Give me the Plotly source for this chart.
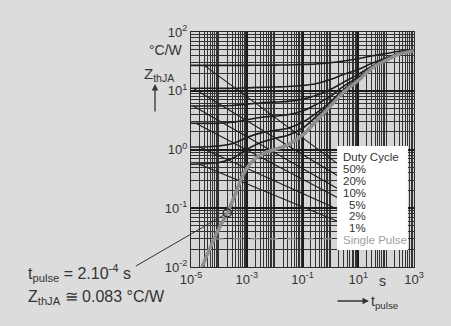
import plotly.graph_objects as go
import math

# ---- data ----
t_single = [2.5e-5, 5e-5, 1e-4, 2e-4, 4e-4, 6e-4, 1e-3, 2e-3, 5e-3, 1e-2, 3e-2,
            0.1, 0.3, 1, 3, 10, 30, 100, 300, 1000]
z_single = [0.01, 0.022, 0.045, 0.083, 0.18, 0.3, 0.48, 0.7, 0.9, 1.0, 1.2,
            1.75, 3.0, 5.5, 9.5, 15, 24, 33, 42, 48]

t_duty = [1e-5, 1e-4, 3e-4, 1e-3, 3e-3, 1e-2, 3e-2, 0.1, 0.3, 1, 3, 10, 30, 100, 300, 1000]
duty_labels = ["50%", "20%", "10%", "5%", "2%", "1%"]
z_50 = [27, 27, 27, 27, 27.2, 27.3, 27.5, 28, 28.5, 30, 32, 35, 39, 43, 47, 50]
z_20 = [11, 11, 11, 11.2, 11.4, 11.6, 11.8, 12.3, 13.2, 15.5, 19, 23, 29, 36, 44, 50]
z_10 = [5.5, 5.5, 5.6, 5.9, 6.2, 6.4, 6.6, 7.2, 8.3, 10.5, 14, 19, 26, 34, 43, 50]
z_05 = [2.8, 2.8, 2.9, 3.2, 3.5, 3.7, 3.9, 4.5, 5.8, 8, 12, 17, 25, 33, 42, 49]
z_02 = [1.1, 1.15, 1.25, 1.6, 1.9, 2.1, 2.3, 2.9, 4.1, 6.5, 10.5, 16, 24, 33, 42, 49]
z_01 = [0.56, 0.6, 0.7, 1.0, 1.3, 1.55, 1.75, 2.3, 3.6, 6, 10, 15.5, 24, 33, 42, 48]
duty_series = [z_50, z_20, z_10, z_05, z_02, z_01]

# leader lines: start on curve (t, Z) -> end near label (t, Z)
lead_start_t = [3e-5, 1.2e-5, 1.2e-5, 1.5e-5, 2e-5, 2e-5]
lead_start_z = [27, 11, 5.5, 2.8, 1.1, 0.56]
lead_end_t = [2.4, 2.4, 2.4, 3.6, 3.6, 3.8]
lead_end_z = [0.52, 0.33, 0.20, 0.128, 0.083, 0.052]
single_lead_t = [7.2e-5, 2.4]
single_lead_z = [0.030, 0.030]

marker_t = [2e-4]
marker_z = [0.083]

x_tickvals = [1e-5, 1e-3, 1e-1, 1e1, 1e3]
x_ticktext = ["10<sup>-5</sup>", "10<sup>-3</sup>", "10<sup>-1</sup>", "10<sup>1</sup>", "10<sup>3</sup>"]
y_tickvals = [1e-2, 1e-1, 1e0, 1e1, 1e2]
y_ticktext = ["10<sup>-2</sup>", "10<sup>-1</sup>", "10<sup>0</sup>", "10<sup>1</sup>", "10<sup>2</sup>"]

BG = "#dcdcdc"
INK = "#2a2a2a"
GRAY = "#8e8e8e"
FONT = "Liberation Sans, Arial, sans-serif"

fig = go.Figure()

for z in duty_series:
    fig.add_trace(go.Scatter(x=t_duty, y=z, mode="lines", line=dict(color="#1e1e1e", width=1.6, shape="spline"),
                             showlegend=False, hoverinfo="skip"))
for i in range(len(duty_labels)):
    fig.add_trace(go.Scatter(x=[lead_start_t[i], lead_end_t[i]], y=[lead_start_z[i], lead_end_z[i]],
                             mode="lines", line=dict(color="#1e1e1e", width=1.1),
                             showlegend=False, hoverinfo="skip"))
fig.add_trace(go.Scatter(x=single_lead_t, y=single_lead_z, mode="lines",
                         line=dict(color="#9a9a9a", width=1.2, dash="dash"), showlegend=False, hoverinfo="skip"))
fig.add_trace(go.Scatter(x=t_single, y=z_single, mode="lines", line=dict(color=GRAY, width=3.5, shape="spline"),
                         showlegend=False, hoverinfo="skip"))
fig.add_trace(go.Scatter(x=marker_t, y=marker_z, mode="markers",
                         marker=dict(symbol="circle-open", size=8, color="#333", line=dict(width=1.5)),
                         showlegend=False, hoverinfo="skip"))

axis_common = dict(type="log", showline=True, linecolor=INK, linewidth=1, mirror=True,
                   gridcolor="#1c1c1c", gridwidth=1.5, ticks="", zeroline=False,
                   tickfont=dict(family=FONT, size=13, color="#333"),
                   minor=dict(dtick="D1", showgrid=True, gridcolor="#333333", gridwidth=1))

fig.update_xaxes(range=[-5, 3], tickmode="array", tickvals=x_tickvals, ticktext=x_ticktext, **axis_common)
fig.update_yaxes(range=[-2, 2], tickmode="array", tickvals=y_tickvals, ticktext=y_ticktext, **axis_common)

# white legend box
fig.add_shape(type="rect", xref="paper", yref="paper", x0=0.655, x1=0.973, y0=0.072, y1=0.515,
              fillcolor="white", line=dict(width=0), layer="above")

ann = []
def txt(text, x, y, xanchor="left", size=12, color="#333", yanchor="middle"):
    ann.append(dict(text=text, x=x, y=y, xref="paper", yref="paper", xanchor=xanchor, yanchor=yanchor,
                    showarrow=False, borderpad=0, font=dict(family=FONT, size=size, color=color)))

def px(xp):
    return (xp - 191) / 223.0
def py(yp):
    return (267 - yp) / 235.0

txt("Duty Cycle", px(342), py(157), size=11.5)
label_y = [169, 181, 193, 205, 216, 228]
for lab, yy in zip(duty_labels, label_y):
    txt(lab, px(367), py(yy), xanchor="right", size=11.5)
txt("Single Pulse", px(342), py(240), size=11.5, color="#a0a0a0")

txt("°C/W", px(184), py(50), xanchor="right", size=14)
txt("Z<sub>thJA</sub>", px(143), py(74), size=15)
ann.append(dict(x=px(155), y=py(84), xref="paper", yref="paper", ax=0, ay=29, text="", showarrow=True,
                arrowhead=2, arrowsize=1, arrowwidth=1.3, arrowcolor="#333"))
txt("s", px(382), py(281), xanchor="center", size=14)
ann.append(dict(x=px(369), y=py(301), xref="paper", yref="paper", ax=-33, ay=0, text="", showarrow=True,
                arrowhead=2, arrowsize=1, arrowwidth=1.3, arrowcolor="#333"))
txt("t<sub>pulse</sub>", px(370), py(302), size=14)

txt("t<sub>pulse</sub> = 2.10<sup>-4</sup> s", px(27), py(273), size=16)
txt("Z<sub>thJA</sub> ≅ 0.083 °C/W", px(27), py(297), size=16)
ann.append(dict(x=math.log10(marker_t[0]), y=math.log10(marker_z[0]), xref="x", yref="y",
                ax=-93, ay=54, text="", showarrow=True, arrowhead=0, arrowwidth=1, arrowcolor="#333", standoff=4))

fig.update_layout(width=451, height=326, margin=dict(l=191, r=37, t=32, b=59),
                  paper_bgcolor=BG, plot_bgcolor="#d6d6d6", annotations=ann,
                  font=dict(family=FONT, color="#333"))

fig.write_html("out.html", config={"displayModeBar": False},
               post_script="document.body.style.margin='0';document.body.style.background='#dcdcdc';")
